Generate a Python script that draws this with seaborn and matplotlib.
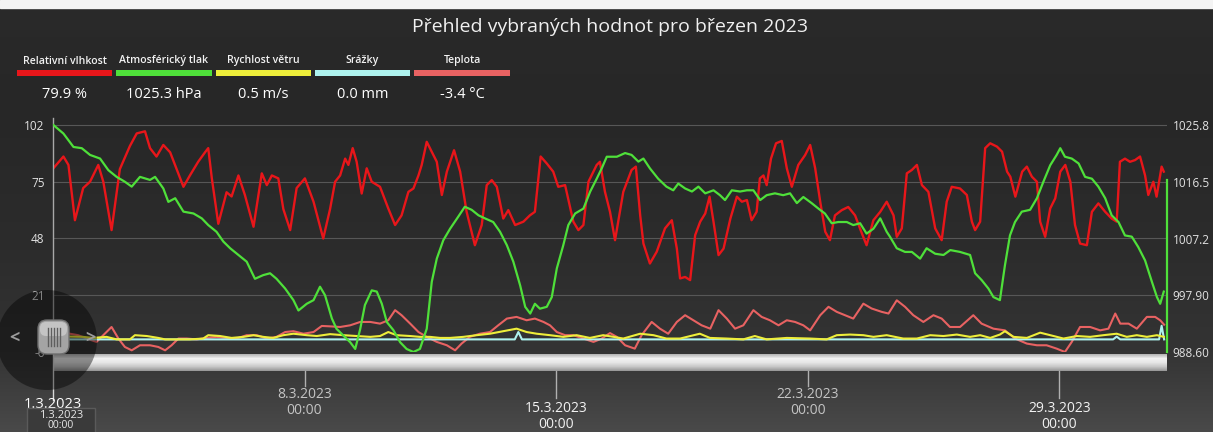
import numpy as np
import pandas as pd
import matplotlib
matplotlib.use("Agg")
import matplotlib.pyplot as plt
import matplotlib.dates as mdates
import seaborn as sns
from matplotlib.patches import Rectangle, Ellipse, FancyBboxPatch
from matplotlib.transforms import blended_transform_factory

# ---------------- data ----------------
TITLE = "Přehled vybraných hodnot pro březen 2023"
START = "2023-03-01"
END = "2023-04-01"
series_names = ["Relativní vlhkost", "Atmosférický tlak", "Rychlost větru", "Srážky", "Teplota"]
series_readouts = ["79.9 %", "1025.3 hPa", "0.5 m/s", "0.0 mm", "-3.4 °C"]
left_ticks = [-6, 21, 48, 75, 102]
left_tick_labels = ["-6", "21", "48", "75", "102"]
right_ticks = [988.60, 997.90, 1007.2, 1016.5, 1025.8]
right_tick_labels = ["988.60", "997.90", "1007.2", "1016.5", "1025.8"]
date_ticks = ["2023-03-08", "2023-03-15", "2023-03-22", "2023-03-29"]
date_tick_labels = ["8.3.2023\n00:00", "15.3.2023\n00:00", "22.3.2023\n00:00", "29.3.2023\n00:00"]
first_date_label = "1.3.2023"
tooltip_lines = ["1.3.2023", "00:00"]

# days since 1.3.2023 00:00
hum_days = [0.01, 0.29, 0.43, 0.61, 0.84, 1.03, 1.26, 1.40, 1.63, 1.86, 2.14, 2.33, 2.56, 2.70, 2.88, 3.07,
            3.26, 3.44, 3.63, 3.81, 4.04, 4.23, 4.32, 4.42, 4.60, 4.83, 4.97, 5.16, 5.34, 5.58, 5.81, 5.95,
            6.09, 6.27, 6.41, 6.60, 6.78, 7.01, 7.25, 7.52, 7.71, 7.85, 7.99, 8.13, 8.22, 8.34, 8.45, 8.59,
            8.73, 8.87, 9.10, 9.33, 9.52, 9.70, 9.89, 10.03, 10.17, 10.26, 10.40, 10.54, 10.68, 10.82, 10.96,
            11.16, 11.33, 11.51, 11.74, 11.93, 12.07, 12.21, 12.35, 12.53, 12.67, 12.86, 13.09, 13.27, 13.41,
            13.57, 13.74, 13.92, 14.06, 14.25, 14.48, 14.62, 14.76, 14.90, 15.13, 15.22, 15.36, 15.50, 15.64,
            15.87, 16.10, 16.22, 16.34, 16.43, 16.61, 16.80, 17.03, 17.22, 17.36, 17.45, 17.59, 17.73, 17.87,
            18.01, 18.15, 18.27, 18.38, 18.52, 18.66, 18.85, 19.03, 19.17, 19.31, 19.44, 19.58, 19.67, 19.77,
            19.86, 19.98, 20.12, 20.28, 20.42, 20.56, 20.74, 20.93, 21.07, 21.21, 21.35, 21.49, 21.62, 21.76,
            21.95, 22.13, 22.32, 22.51, 22.64, 22.83, 23.02, 23.20, 23.39, 23.48, 23.62, 23.76, 23.90, 24.04,
            24.18, 24.36, 24.55, 24.73, 24.87, 25.01, 25.24, 25.43, 25.57, 25.66, 25.80, 25.94, 26.08, 26.27,
            26.41, 26.55, 26.64, 26.78, 26.97, 27.10, 27.24, 27.38, 27.47, 27.61, 27.75, 27.89, 28.03, 28.17,
            28.31, 28.44, 28.58, 28.77, 28.91, 29.09, 29.28, 29.46, 29.60, 29.69, 29.83, 29.97, 30.11, 30.25,
            30.39, 30.48, 30.62, 30.71, 30.85, 30.91]
hum_vals = [81.4, 87, 83, 56.7, 72, 75, 83, 75, 52, 81, 92, 98, 99, 91, 87, 92.5,
            89, 81, 72.6, 78, 84.5, 89, 91, 76.6, 55, 70, 68, 78, 68.7, 53.6, 79, 73.4,
            78, 76.6, 62, 52, 72, 76.6, 65.5, 48, 62, 75, 78, 86, 83, 91, 84.5, 69.4,
            81.4, 75, 72.6, 62.3, 54.4, 59, 70.2, 71.8, 78, 83, 94, 89.3, 84.5, 68.7, 79.8,
            90, 79.8, 60.7, 44.8, 54.4, 73.4, 75.8, 72.6, 57.5, 61.5, 54.4, 56, 59, 60.7,
            87, 83.7, 79.8, 72.6, 73.4, 56, 52, 54.4, 75, 83, 84.5, 70.2, 60.7, 47.2,
            70.2, 80.6, 82.2, 59, 45.6, 36.1, 41.7, 52.8, 56.7, 43.2, 29, 29.7, 28.2, 49.6,
            56, 59.9, 67.9, 56, 40.1, 43.2, 57.5, 67.9, 65.5, 66.3, 56.7, 60.7, 76.6, 78,
            73.4, 86, 93.3, 94.4, 81.4, 72.6, 83, 87.7, 92.5, 81.4, 65.5, 51.2, 47.2, 59,
            61.5, 63, 59, 50.4, 44.8, 56.7, 60.7, 65.5, 59, 48.8, 52.8, 79, 80.6, 83,
            73.4, 70.2, 52.8, 47.2, 65.5, 72.6, 71.8, 68.7, 56, 52, 56, 91, 93.3, 91.7,
            89.3, 79.8, 77.4, 67.9, 79.8, 82.2, 77.4, 75, 56, 48.8, 62.3, 67.1, 79.8, 83,
            75, 54.4, 45.6, 44.8, 60.7, 64.7, 60.7, 57.5, 56, 84.5, 86, 84.5, 85.3, 87,
            78, 68.7, 75, 67.9, 82.2, 79.8]

pres_days = [0.01, 0.29, 0.57, 0.80, 1.03, 1.31, 1.54, 1.77, 2.00, 2.19, 2.42, 2.70, 2.84, 3.07, 3.21, 3.40,
             3.63, 3.91, 4.14, 4.32, 4.55, 4.74, 4.93, 5.16, 5.39, 5.62, 5.85, 6.04, 6.22, 6.46, 6.69, 6.83,
             7.06, 7.25, 7.43, 7.57, 7.76, 7.89, 8.08, 8.27, 8.41, 8.55, 8.68, 8.87, 9.01, 9.15, 9.29, 9.47,
             9.66, 9.84, 10.03, 10.21, 10.40, 10.54, 10.68, 10.86, 11.05, 11.28, 11.46, 11.65, 11.84, 12.02,
             12.25, 12.44, 12.63, 12.81, 13.00, 13.14, 13.28, 13.41, 13.55, 13.74, 13.88, 14.02, 14.20, 14.34,
             14.53, 14.76, 14.95, 15.13, 15.27, 15.41, 15.69, 15.92, 16.10, 16.29, 16.43, 16.61, 16.84, 17.07,
             17.26, 17.40, 17.59, 17.78, 17.96, 18.15, 18.38, 18.56, 18.70, 18.89, 19.12, 19.31, 19.49, 19.68,
             19.86, 20.09, 20.32, 20.51, 20.70, 20.88, 21.11, 21.30, 21.48, 21.67, 21.85, 22.09, 22.27, 22.46,
             22.64, 22.83, 23.02, 23.20, 23.29, 23.48, 23.71, 23.90, 24.13, 24.31, 24.55, 24.78, 24.97, 25.24,
             25.52, 25.66, 25.84, 26.03, 26.17, 26.35, 26.49, 26.63, 26.77, 26.96, 27.19, 27.38, 27.56, 27.75,
             27.93, 28.03, 28.16, 28.35, 28.54, 28.72, 28.91, 29.09, 29.28, 29.46, 29.65, 29.83, 30.02, 30.20,
             30.39, 30.58, 30.72, 30.81, 30.91]
pres_vals = [1025.8, 1024.4, 1022.2, 1022.0, 1020.9, 1020.3, 1018.4, 1017.3, 1016.5, 1015.7, 1017.3, 1016.8,
             1017.3, 1015.4, 1013.2, 1013.8, 1011.6, 1011.3, 1010.5, 1009.4, 1008.3, 1006.7, 1005.6, 1004.5,
             1003.4, 1000.6, 1001.2, 1001.5, 1000.6, 999.0, 997.1, 995.4, 996.5, 997.1, 999.3, 997.9, 994.1,
             992.4, 991.3, 990.2, 989.1, 992.4, 996.3, 998.7, 998.5, 996.5, 993.5, 992.2, 990.2, 989.1, 988.6,
             989.1, 992.4, 1000.1, 1003.9, 1006.9, 1008.8, 1010.8, 1012.4, 1011.9, 1011.0, 1010.5, 1009.9,
             1008.3, 1006.1, 1003.4, 999.5, 996.0, 994.9, 996.5, 995.7, 996.0, 997.6, 1002.3, 1006.1, 1009.4,
             1011.3, 1012.1, 1014.9, 1017.0, 1018.7, 1020.6, 1020.6, 1021.2, 1020.9, 1019.8, 1020.3, 1018.7,
             1017.0, 1015.7, 1015.1, 1016.2, 1015.4, 1014.9, 1015.7, 1014.6, 1015.1, 1014.3, 1013.5, 1015.1,
             1014.9, 1015.1, 1015.1, 1013.5, 1014.3, 1014.6, 1014.3, 1014.6, 1013.0, 1014.0, 1013.0, 1012.1,
             1011.3, 1009.7, 1009.9, 1009.9, 1009.4, 1009.7, 1008.0, 1008.8, 1010.5, 1008.3, 1007.5, 1005.6,
             1005.0, 1005.0, 1003.9, 1005.6, 1004.7, 1004.5, 1005.3, 1005.0, 1004.5, 1001.5, 1000.4, 999.0,
             997.6, 997.1, 1002.8, 1007.7, 1009.9, 1011.6, 1011.9, 1013.8, 1016.5, 1019.2, 1020.9, 1022.0,
             1020.6, 1020.3, 1019.5, 1017.3, 1017.0, 1015.7, 1013.8, 1011.0, 1009.9, 1007.7, 1007.5, 1005.8,
             1003.6, 1000.1, 997.6, 996.5, 998.5]

wind_days = [0.0, 0.84, 1.12, 1.49, 1.77, 2.14, 2.28, 2.61, 2.93, 3.12, 3.44, 3.81, 4.18, 4.32, 4.65, 4.97,
             5.30, 5.58, 5.85, 6.13, 6.41, 6.69, 7.06, 7.34, 7.71, 8.08, 8.45, 8.83, 9.10, 9.33, 9.56, 9.94,
             10.21, 10.49, 10.77, 11.05, 11.42, 11.79, 12.16, 12.53, 12.90, 13.18, 13.46, 13.83, 14.20, 14.57,
             14.94, 15.31, 15.60, 15.87, 16.34, 16.71, 17.07, 17.45, 18.00, 18.28, 18.75, 19.21, 19.53, 19.86,
             20.42, 21.07, 21.53, 21.81, 22.18, 22.55, 22.83, 23.20, 23.66, 24.04, 24.41, 24.78, 25.15, 25.52,
             25.80, 26.08, 26.35, 26.49, 26.73, 27.10, 27.47, 27.75, 28.12, 28.49, 28.86, 29.23, 29.60, 29.88,
             30.16, 30.44, 30.72, 30.91]
wind_vals = [1.5, 1.2, 0.7, 1.2, 0, 0, 2, 1.6, 0.7, 0, 0, 0, 0.4, 2, 1.6, 0.7,
             1.2, 2, 1.2, 0.7, 2, 2.7, 2, 1.6, 2.5, 2, 1.6, 1.2, 1.6, 3.5, 2, 1.6,
             1.2, 1.2, 0.7, 0.7, 1.2, 2, 2.7, 3.9, 5.1, 3.5, 2.7, 2, 1.2, 2,
             0.7, 2, 1.2, 0.4, 2.7, 2, 0.4, 0.4, 2.7, 0.7, 0.4, 0, 1.6, 0,
             0.7, 0.4, 0, 2, 2.3, 2, 1.2, 2, 0.4, 0.4, 2, 1.6, 2.3, 1.2,
             2, 0.7, 2.3, 3.9, 1.2, 0.7, 3.2, 2, 0.4, 1.6, 1.2, 2, 2.7, 1.2,
             2, 1.2, 2, 1.2]

rain_days = [0.0, 12.85, 12.95, 13.05, 29.50, 29.60, 29.70, 30.78, 30.85, 30.92]
rain_vals = [0, 0, 3.5, 0, 0, 1.3, 0, 0, 6.5, 0]

temp_days = [0.0, 0.25, 0.47, 0.70, 0.94, 1.21, 1.40, 1.63, 1.82, 2.00, 2.19, 2.42, 2.70, 2.93, 3.12, 3.30,
             3.49, 3.72, 4.00, 4.28, 4.55, 4.83, 5.11, 5.39, 5.67, 5.95, 6.22, 6.46, 6.69, 6.97, 7.25, 7.48,
             7.71, 7.99, 8.27, 8.55, 8.83, 9.10, 9.33, 9.52, 9.70, 9.94, 10.17, 10.40, 10.68, 10.96, 11.19,
             11.37, 11.60, 11.88, 12.16, 12.39, 12.63, 12.90, 13.18, 13.41, 13.65, 13.83, 14.02, 14.25, 14.48,
             14.76, 15.04, 15.27, 15.50, 15.69, 15.92, 16.19, 16.38, 16.66, 16.89, 17.12, 17.36, 17.59, 17.82,
             18.05, 18.29, 18.52, 18.75, 18.98, 19.21, 19.49, 19.72, 19.95, 20.19, 20.42, 20.65, 20.88, 21.07,
             21.35, 21.58, 21.81, 22.04, 22.27, 22.55, 22.78, 23.06, 23.25, 23.48, 23.71, 23.94, 24.22, 24.50,
             24.73, 24.96, 25.24, 25.61, 25.84, 26.17, 26.49, 26.77, 27.10, 27.38, 27.65, 27.93, 28.16, 28.35,
             28.58, 28.86, 29.14, 29.37, 29.56, 29.70, 29.93, 30.16, 30.44, 30.67, 30.81, 30.92]
temp_vals = [1.5, 3.5, 2.7, 2, 0.4, -1.2, 2, 5.9, 0.4, -3.6, -5.2, -2.8, -2.8, -3.6, -5.2, -2.8,
             0.4, 0.4, 0, 0.7, 1.2, 0.7, 0.4, 2, 2, 0.4, 1.2, 3.5, 3.9, 2.7, 3.5, 6.4,
             6.2, 5.9, 6.7, 8.3, 8.3, 7.5, 9.1, 13.9, 11.5, 7.5, 3.5, 1.2, -1.2, -2.8, -5.2,
             -2, 1.2, 2.7, 3.5, 6.7, 9.9, 10.7, 9.1, 9.9, 8.3, 6.7, 3.5, 2, 2,
             0.4, -1.2, 0.4, 3, 1.2, -2.8, -4.4, 2, 8.3, 5.1, 2.7, 8.3, 11.5, 9.1,
             6.7, 5.1, 13.9, 9.9, 5.1, 6.7, 13.9, 10.7, 9.1, 6.7, 9.1, 8.3, 6.7, 4.3,
             11.5, 15.5, 13.1, 11.5, 9.9, 17.0, 14.7, 13.1, 12.3, 18.6, 15.5, 11.5, 8.3, 11.5,
             9.9, 5.9, 5.9, 11.5, 7.5, 5.1, 4.3, 0.4, -2, -2.8, -2.8, -4.4, -6, -1.2,
             5.9, 5.9, 4.3, 5.1, 12.3, 7.5, 7.5, 5.1, 10.7, 10.7, 9.1, 7.0]

# ---------------- style ----------------
W, H = 1213, 432
C_HUM = "#e8161a"
C_PRES = "#4fe03a"
C_WIND = "#eeee3a"
C_RAIN = "#aef2ee"
C_TEMP = "#e86262"
legend_colors = [C_HUM, C_PRES, C_WIND, C_RAIN, C_TEMP]

plt.rcParams["font.family"] = ["Open Sans", "DejaVu Sans"]

fig = plt.figure(figsize=(W / 100, H / 100), dpi=100)
fig.patch.set_facecolor("#2b2b2b")

# background gradient
bg = fig.add_axes([0, 0, 1, 1], zorder=-5)
bg.set_axis_off()
stops_y = [0, 110, 250, 352, 432]
stops_c = ["#2a2a2a", "#272727", "#2c2c2c", "#343434", "#4a4a4a"]
rgb = np.array([matplotlib.colors.to_rgb(c) for c in stops_c])
yy = np.arange(H)
grad = np.stack([np.interp(yy, stops_y, rgb[:, k]) for k in range(3)], axis=-1)[:, None, :]
bg.imshow(grad, extent=(0, W, H, 0), aspect="auto", origin="upper")
bg.set_xlim(0, W)
bg.set_ylim(H, 0)
bg.add_patch(Rectangle((0, 0), W, 8, color="#f4f4f4", zorder=2))


def fx(px):
    return px / W


def fy(py):
    return 1 - py / H


# main axes
top_px, bot_px, left_px, right_px = 118, 352, 53, 1167
ax = fig.add_axes([fx(left_px), fy(bot_px), fx(right_px) - fx(left_px), (bot_px - top_px) / H], zorder=1)
ax.patch.set_visible(False)
px_per_unit_l = (352 - 125) / (left_ticks[-1] - left_ticks[0])
ax.set_ylim(left_ticks[0], left_ticks[-1] + (125 - top_px) / px_per_unit_l)
t0 = pd.Timestamp(START)


def to_df(days, vals):
    return pd.DataFrame({"time": t0 + pd.to_timedelta(days, unit="D"), "value": vals})


lw = 1.5
sns.lineplot(data=to_df(temp_days, temp_vals), x="time", y="value", ax=ax, color=C_TEMP, lw=lw,
             estimator=None, sort=False, legend=False)
sns.lineplot(data=to_df(rain_days, rain_vals), x="time", y="value", ax=ax, color=C_RAIN, lw=lw,
             estimator=None, sort=False, legend=False)
sns.lineplot(data=to_df(wind_days, wind_vals), x="time", y="value", ax=ax, color=C_WIND, lw=lw,
             estimator=None, sort=False, legend=False)
sns.lineplot(data=to_df(hum_days, hum_vals), x="time", y="value", ax=ax, color=C_HUM, lw=1.7,
             estimator=None, sort=False, legend=False)

ax.set_xlim(pd.Timestamp(START), pd.Timestamp(END))
ax.set_yticks(left_ticks)
ax.set_yticklabels(left_tick_labels)
ax.grid(axis="y", color="#575757", lw=0.8)
ax.grid(axis="x", visible=False)
ax.set_axisbelow(True)
for s in ["top", "right", "bottom"]:
    ax.spines[s].set_visible(False)
ax.spines["left"].set_color("#a8a8a8")
ax.spines["left"].set_linewidth(1.0)
ax.tick_params(axis="y", length=0, labelsize=8.5, labelcolor="#e2e2e2", pad=6)
ax.tick_params(axis="x", bottom=False, labelbottom=False)
ax.set_xlabel("")
ax.set_ylabel("")

ax2 = ax.twinx()
ax2.patch.set_visible(False)
px_per_unit_r = (352 - 125) / (right_ticks[-1] - right_ticks[0])
ax2.set_ylim(right_ticks[0], right_ticks[-1] + (125 - top_px) / px_per_unit_r)
sns.lineplot(data=to_df(pres_days, pres_vals), x="time", y="value", ax=ax2, color=C_PRES, lw=1.6,
             estimator=None, sort=False, legend=False)
ax2.set_xlim(pd.Timestamp(START), pd.Timestamp(END))
ax2.set_yticks(right_ticks)
ax2.set_yticklabels(right_tick_labels)
for s in ["top", "left", "bottom", "right"]:
    ax2.spines[s].set_visible(False)
ax2.tick_params(axis="y", length=0, labelsize=8.5, labelcolor="#e2e2e2", pad=4)
ax2.tick_params(axis="x", bottom=False, labelbottom=False)
ax2.set_ylabel("")
ax2.set_xlabel("")
ax2.axvline(pd.Timestamp(END), ymin=0, ymax=(bot_px - 180) / (bot_px - top_px), color=C_PRES, lw=1.6,
            clip_on=False)

# overlay axes in pixel coordinates for chrome
ov = fig.add_axes([0, 0, 1, 1], zorder=10)
ov.set_axis_off()
ov.patch.set_visible(False)

# title
ov.text(W / 2 + 4, 27, TITLE, ha="center", va="center", fontsize=14, color="#f0f0f0")

# legend
col_x = [(17, 112), (116, 212), (216, 311), (315, 410), (414, 510)]
for (x0, x1), name, val, c in zip(col_x, series_names, series_readouts, legend_colors):
    xc = (x0 + x1) / 2
    ov.text(xc, 61, name, ha="center", va="center", fontsize=7.6, color="#f2f2f2", fontweight="semibold")
    ov.add_patch(Rectangle((x0, 70), x1 - x0, 6, color=c, lw=0))
    ov.text(xc, 95, val, ha="center", va="center", fontsize=10.5, color="#ffffff")

# scrollbar
bar = np.array([matplotlib.colors.to_rgb(c) for c in ["#b8b8b8", "#f2f2f2", "#e6e6e6", "#c8c8c8", "#9a9a9a"]])
ys = np.linspace(0, 1, 17)
bar_grad = np.stack([np.interp(ys, np.linspace(0, 1, 5), bar[:, k]) for k in range(3)], axis=-1)[:, None, :]
ov.imshow(bar_grad, extent=(53, 1167, 371, 354), aspect="auto", origin="upper", zorder=1)

# date ticks (x from data, y in pixels)
tr = blended_transform_factory(ax.transData, ov.transData)
for i, (d, lab) in enumerate(zip(date_ticks, date_tick_labels)):
    xd = mdates.date2num(pd.Timestamp(d))
    if i % 2 == 0:
        y_end, y1, col = 386, 395, "#c4c4c4"
    else:
        y_end, y1, col = 398, 408, "#f2f2f2"
    ov.plot([xd, xd], [371, y_end], color="#b0b0b0", lw=1, transform=tr, clip_on=False)
    l1, l2 = lab.split("\n")
    ov.text(xd, y1, l1, ha="center", va="center", fontsize=10, color=col, transform=tr)
    ov.text(xd, y1 + 16, l2, ha="center", va="center", fontsize=10, color=col, transform=tr)

x_start = mdates.date2num(pd.Timestamp(START))
ov.plot([x_start, x_start], [352, 400], color="#d8d8d8", lw=1, transform=tr, clip_on=False)
ov.text(x_start, 404, first_date_label, ha="center", va="center", fontsize=10.5, color="#ffffff",
        transform=tr, zorder=3)

# knob / navigator
ov.add_patch(Ellipse((47, 340), 100, 100, color="#000000", alpha=0.42, lw=0, zorder=4))
ov.add_patch(FancyBboxPatch((38, 320), 31, 34, boxstyle="round,pad=0,rounding_size=9",
                            fc="#a4a4a4", ec="#6e6e6e", lw=1, zorder=5))
ov.add_patch(FancyBboxPatch((40, 322), 27, 14, boxstyle="round,pad=0,rounding_size=6",
                            fc="#c4c4c4", ec="none", lw=0, zorder=5))
for xs in [48, 51, 54, 57, 60]:
    ov.plot([xs, xs], [328, 346], color="#5e5e5e", lw=1, zorder=6)
ov.text(14, 338, "<", ha="center", va="center", fontsize=13, fontweight="bold", color="#9c9c9c", zorder=6)
ov.text(90, 338, ">", ha="center", va="center", fontsize=13, fontweight="bold", color="#9c9c9c", zorder=6)

# tooltip box
ov.add_patch(Rectangle((27, 408), 68, 30, fc="#3a3a3a", ec="#5a5a5a", lw=1, zorder=7))
ov.text(61, 416, tooltip_lines[0], ha="center", va="center", fontsize=8, color="#e8e8e8", zorder=8)
ov.text(61, 431, tooltip_lines[1], ha="center", va="bottom", fontsize=7.5, color="#e8e8e8", zorder=8)

ov.set_xlim(0, W)
ov.set_ylim(H, 0)

fig.savefig("out.png", dpi=100, facecolor=fig.get_facecolor())
